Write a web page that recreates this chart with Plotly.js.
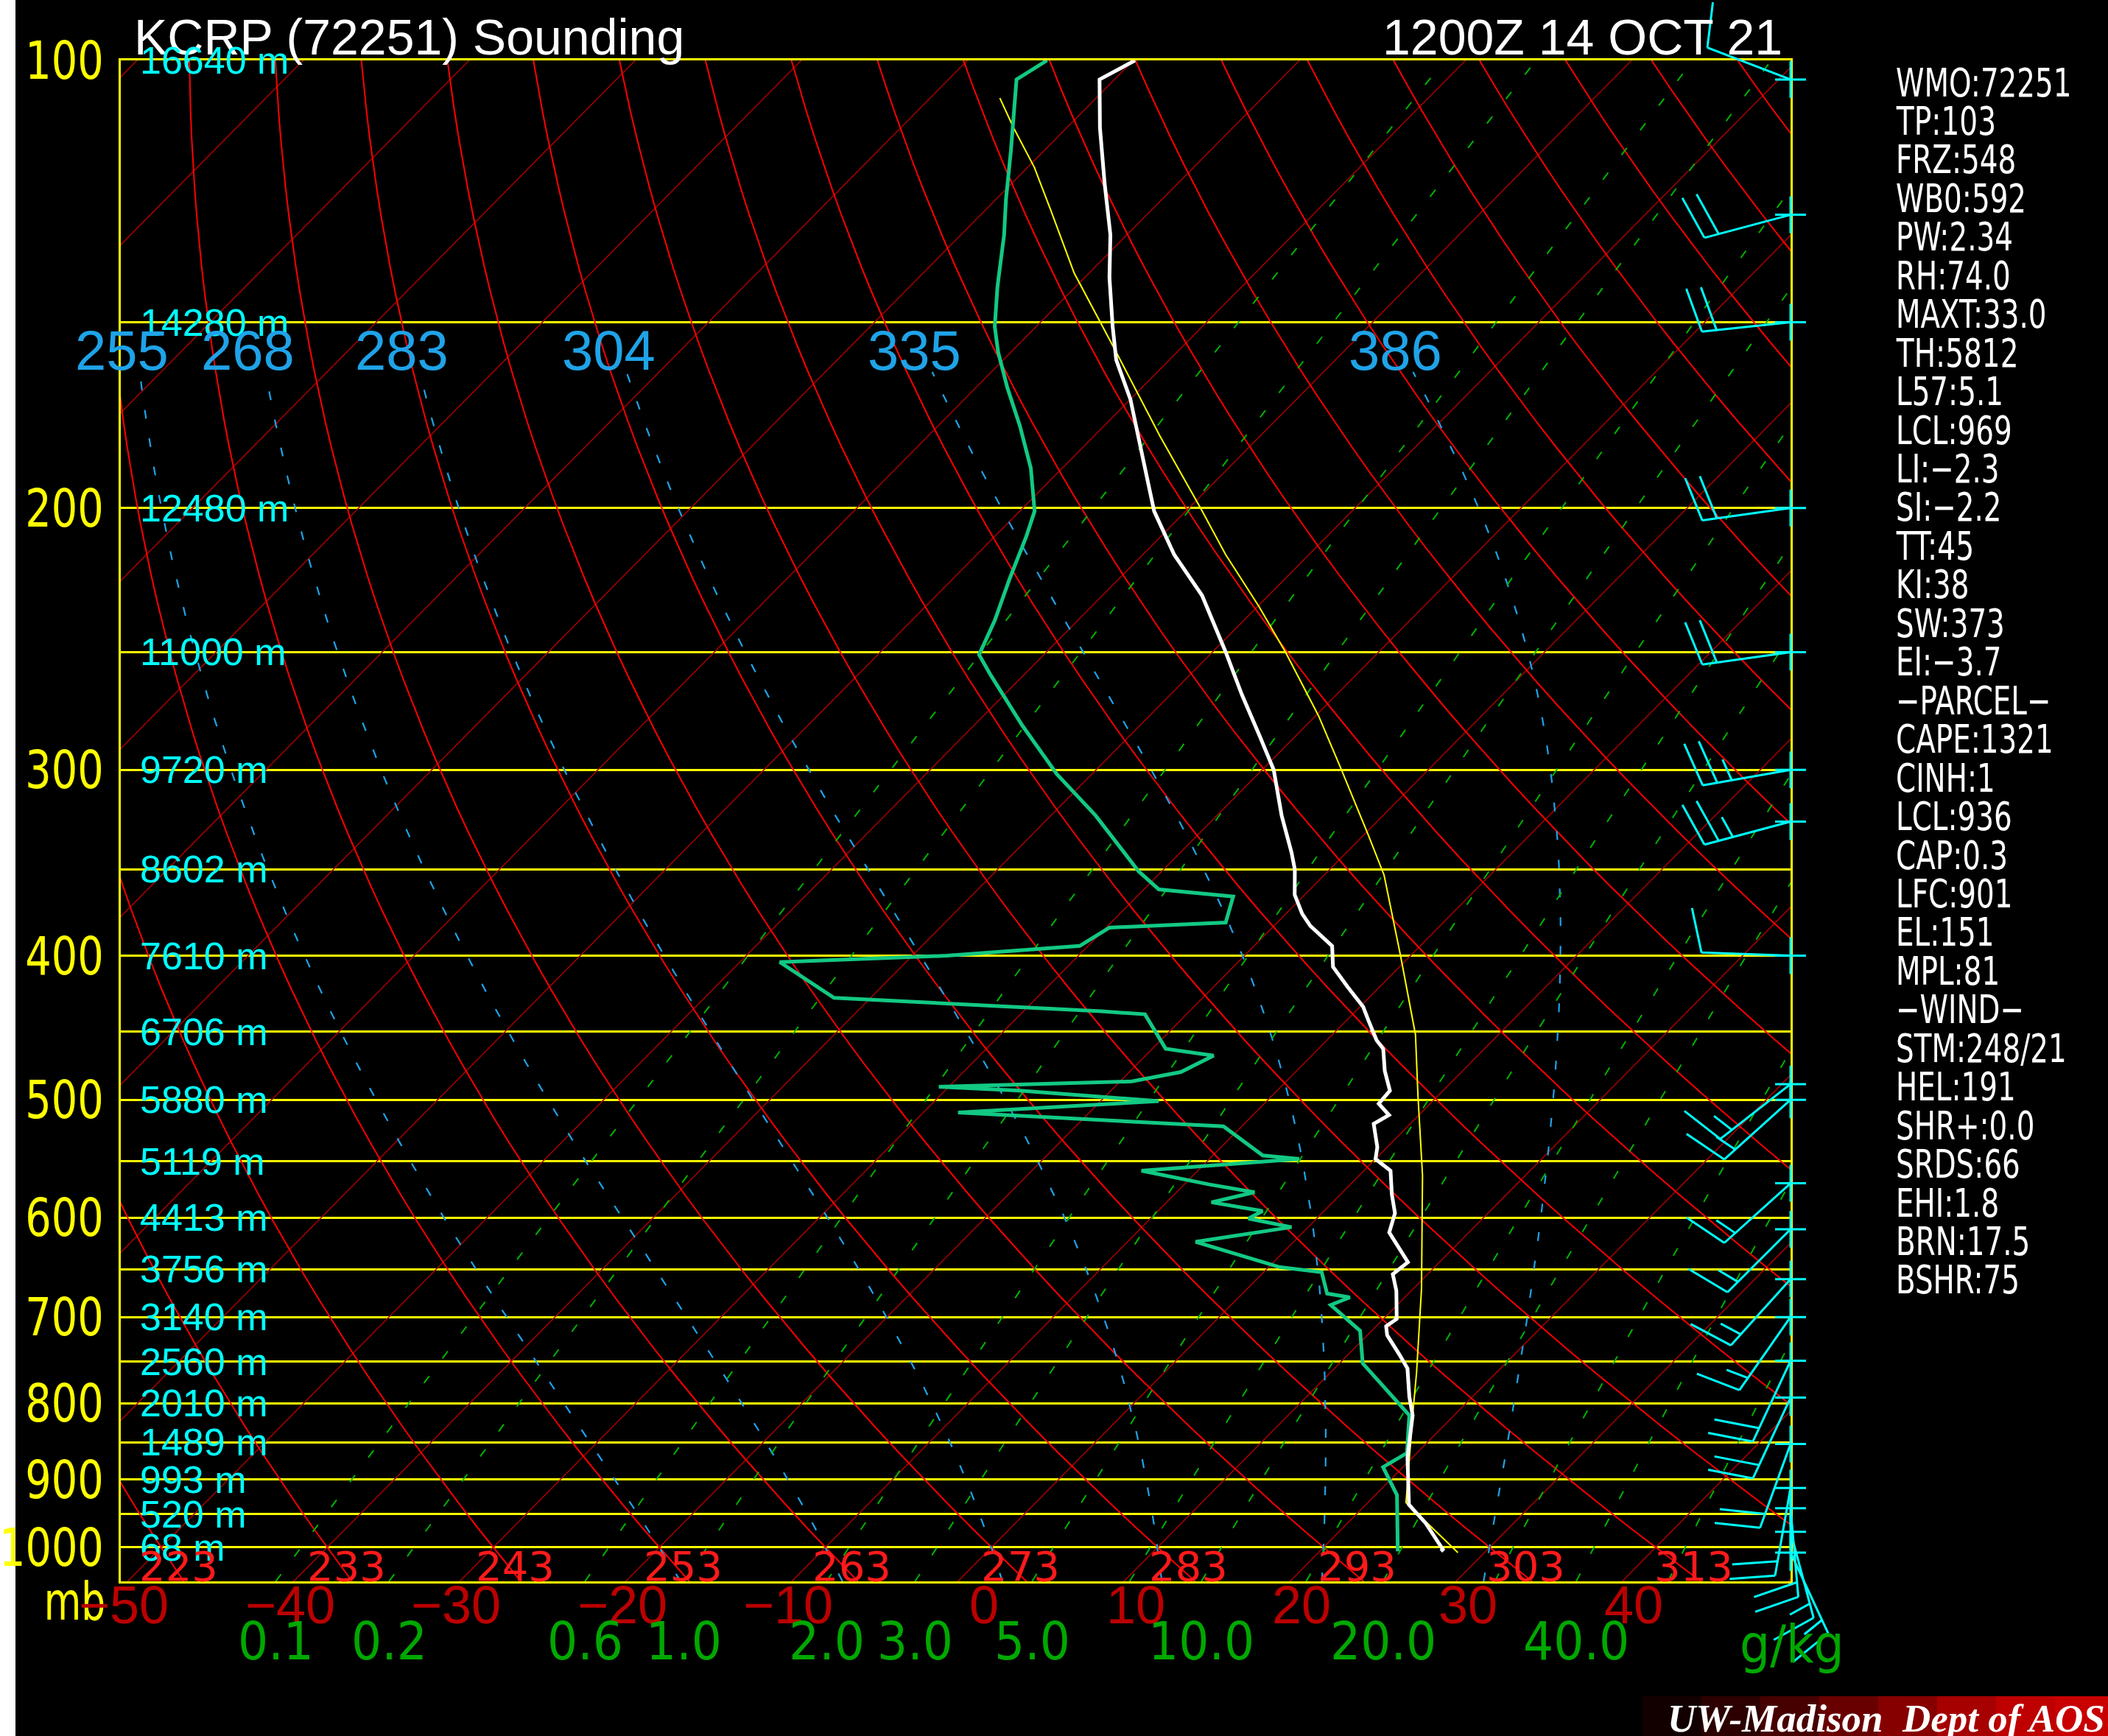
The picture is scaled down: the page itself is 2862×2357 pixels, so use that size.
<!DOCTYPE html>
<html><head><meta charset="utf-8">
<script src="https://cdn.plot.ly/plotly-3.0.1.min.js"></script>
<style>html,body{margin:0;padding:0;background:#000;overflow:hidden}#chart{width:2862px;height:2357px}</style>
</head><body><div id="chart"></div><script>
// ---------------- DATA ----------------
const LEVELS = [100,150,200,250,300,350,400,450,500,550,600,650,700,750,800,850,900,950,1000];
const HEIGHT_LABELS = ['16640 m','14280 m','12480 m','11000 m','9720 m','8602 m','7610 m','6706 m','5880 m','5119 m','4413 m','3756 m','3140 m','2560 m','2010 m','1489 m','993 m','520 m','68 m'];
const P_LABELS = [100,200,300,400,500,600,700,800,900,1000];
const T_LABELS = [-50,-40,-30,-20,-10,0,10,20,30,40];
const THETA_LABELS = [223,233,243,253,263,273,283,293,303,313];
const THETAW = [-20,-10,0,10,20,30];
const THETAE_LABELS = ['255','268','283','304','335','386'];
const MIXR = [0.1,0.2,0.6,1,2,3,5,7.5,10,15,20,30,40,55];
const MIXR_LABEL_VALUES = [0.1,0.2,0.6,1,2,3,5,10,20,40];
const MIXR_LABELS = ['0.1','0.2','0.6','1.0','2.0','3.0','5.0','10.0','20.0','40.0'];

const tempP = [1006,1003,963,936,870,845,815,792,758,742,720,710,702,672,655,643,627,614,596,579,558,548,538,519,512,503,493,478,462,456,442,433,420,407,394,382,375,364,350,341,322,300,285,267,250,229,215,201,193,181,169,159,151,140,131,121,111,103,100];
const tempT = [27.3,27.3,24.7,22.6,19.7,18.7,17.5,16.2,14.4,13.1,11.2,10.6,10.8,9.1,7.9,8.1,6.5,5.2,4.4,3.1,1.6,0.0,-0.6,-2.2,-1.8,-3.1,-3.2,-4.7,-6.1,-7.0,-8.7,-9.8,-11.9,-14.0,-15.3,-17.8,-19.0,-20.6,-22.1,-23.3,-26.1,-29.3,-32.1,-35.7,-39.2,-44.0,-48.1,-51.9,-53.8,-56.8,-60.0,-63.2,-65.4,-68.5,-71.0,-74.4,-78.0,-80.9,-79.9];

const dewP = [1006,922,883,864,815,752,715,687,679,675,653,648,623,609,601,594,586,577,570,558,548,545,521,516,510,501,493,490,486,479,467,462,438,436,430,427,404,400,394,383,380,365,361,351,322,302,280,259,251,238,223,209,201,188,176,166,157,151,142,131,124,115,103,100];
const dewT = [24.7,21.3,18.8,19.4,17.3,11.4,9.3,6.0,6.7,5.1,3.5,0.7,-5.9,-1.0,-4.1,-3.7,-7.3,-5.3,-8.5,-13.4,-4.6,-7.0,-11.1,-19.2,-27.9,-16.5,-25.5,-30.6,-19.3,-16.9,-15.9,-19.2,-22.5,-25.3,-35.9,-42.2,-47.6,-37.9,-30.5,-29.8,-23.1,-24.2,-29.1,-31.4,-37.3,-42.1,-47.1,-52.0,-53.9,-55.0,-56.6,-58.1,-59.1,-61.9,-65.1,-68.1,-70.8,-72.5,-74.7,-77.4,-79.4,-82.0,-85.9,-85.2];

const parcelP = [1008,933,815,763,670,562,497,452,400,353,332,299,276,250,233,215,200,179,157,139,126,118,111,106];
const parcelT = [28.4,22.3,17.5,15.2,10.5,3.8,-1.2,-5.0,-10.6,-16.4,-19.7,-25.4,-29.8,-35.6,-39.9,-45.0,-49.3,-56.0,-63.7,-70.9,-76.1,-79.6,-83.2,-85.8];

// wind barbs: pressure (mb), direction (deg), speed (kt)
const windP   = [103,127,150,200,250,300,325,400,488,500,569,611,660,700,749,793,852,912,941,976,1008];
const windDir = [291,255,264,262,262,260,255,272,232,228,228,225,222,215,205,205,200,190,175,165,155];
const windSpd = [10,20,20,20,20,25,25,10,15,15,15,15,15,15,20,20,20,20,20,15,15];

const STATS = ['WMO:72251','TP:103','FRZ:548','WB0:592','PW:2.34','RH:74.0','MAXT:33.0','TH:5812','L57:5.1','LCL:969','LI:\u22122.3','SI:\u22122.2','TT:45','KI:38','SW:373','EI:\u22123.7','\u2212PARCEL\u2212','CAPE:1321','CINH:1','LCL:936','CAP:0.3','LFC:901','EL:151','MPL:81','\u2212WIND\u2212','STM:248/21','HEL:191','SHR+:0.0','SRDS:66','EHI:1.8','BRN:17.5','BSHR:75'];
const TITLE_LEFT = 'KCRP (72251) Sounding';
const TITLE_RIGHT = '1200Z 14 OCT 21';

// ---------------- GEOMETRY ----------------
const W = 2862, H = 2357;
const PL = 164, PR = 2431, PT = 82, PB = 2147;          // plot frame in page pixels
const XMIN = -50.55, XMAX = 50.0;                       // skewed temperature range
const PBOT = 1053.9, PTOP = 100;
const SK = 88.55, PREF = 1050;                          // skew (deg C per pressure decade)
const PXX = (PR-PL)/(XMAX-XMIN);
const PXD = (PB-PT)/(Math.log10(PBOT)-Math.log10(PTOP));
function sx(T,p){ return T + SK*Math.log10(PREF/p); }
function logspace(a,b,n){ const o=[]; for(let i=0;i<n;i++){ o.push(Math.pow(10, Math.log10(a)+(Math.log10(b)-Math.log10(a))*i/(n-1))); } return o; }

// thermodynamics for the background lines
function esat(T){ return 6.112*Math.exp(17.67*T/(T+243.5)); }
function thetaE(T,p){ const Tk=T+273.15, e=esat(T), r=622*e/(p-e);
  return Tk*Math.pow(1000/p,0.2854*(1-0.00028*r))*Math.exp((3.376/Tk-0.00254)*r*(1+0.00081*r)); }
function satT(te,p){ let lo=-160, hi=60; for(let k=0;k<60;k++){ const m=(lo+hi)/2; if(thetaE(m,p)>te) hi=m; else lo=m; } return (lo+hi)/2; }
function moistAdiabat(Tw, ptop){ const te=thetaE(Tw,1000); return logspace(PBOT,ptop,50).map(p=>[p,satT(te,p)]); }
function mixT(w,p){ const e=w*p/(622+w); const l=Math.log(e/6.112); return 243.5*l/(17.67-l); }

const traces = [];
// isotherms
(function(){ const x=[], y=[]; for(let T=-150;T<=50;T+=10){ x.push(sx(T,PBOT), sx(T,PTOP), null); y.push(PBOT, PTOP, null); }
  traces.push({x, y, mode:'lines', line:{color:'#a00000', width:1.6}, hoverinfo:'skip', showlegend:false}); })();
// dry adiabats
(function(){ const x=[], y=[]; const ps=logspace(PBOT,PTOP,60);
  for(let th=213.15; th<=463.15; th+=10){ ps.forEach(p=>{ x.push(sx(th*Math.pow(p/1000,0.2857)-273.15,p)); y.push(p); }); x.push(null); y.push(null); }
  traces.push({x, y, mode:'lines', line:{color:'#ff0000', width:2}, hoverinfo:'skip', showlegend:false}); })();
// moist adiabats
const moistLines = THETAW.map(tw=>moistAdiabat(tw,162));
moistLines.forEach(ln=>traces.push({x:ln.map(d=>sx(d[1],d[0])), y:ln.map(d=>d[0]), mode:'lines',
  line:{color:'#1fa3e8', width:2.2, dash:'12px,27px'}, hoverinfo:'skip', showlegend:false}));
// mixing ratio lines
(function(){ const ps=logspace(PBOT,PTOP,40); MIXR.forEach(w=>traces.push({x:ps.map(p=>sx(mixT(w,p),p)), y:ps, mode:'lines',
  line:{color:'#00b400', width:2, dash:'12px,30px'}, hoverinfo:'skip', showlegend:false})); })();
// parcel, dewpoint, temperature
traces.push({x:parcelP.map((p,i)=>sx(parcelT[i],p)), y:parcelP, mode:'lines', line:{color:'#ffff00', width:2}, hoverinfo:'skip', showlegend:false});
traces.push({x:dewP.map((p,i)=>sx(dewT[i],p)), y:dewP, mode:'lines', line:{color:'#12c983', width:5}, hoverinfo:'skip', showlegend:false});
traces.push({x:tempP.map((p,i)=>sx(tempT[i],p)), y:tempP, mode:'lines', line:{color:'#ffffff', width:5}, hoverinfo:'skip', showlegend:false});

// wind barbs on the page-wide overlay axes (same data mapping, not clipped at the frame)
(function(){ const x=[], y=[];
  function seg(p, a, b){ x.push(XMAX + a[0]/PXX, XMAX + b[0]/PXX, null); y.push(p*Math.pow(10,a[1]/PXD), p*Math.pow(10,b[1]/PXD), null); }
  windP.forEach((p,i)=>{
    const r = windDir[i]*Math.PI/180, s=[Math.sin(r), -Math.cos(r)], q=[Math.cos(r), Math.sin(r)];
    const L=121, F=60, A=15, G=20;
    seg(p,[-21,0],[21,0]); seg(p,[0,-25],[0,25]);
    seg(p,[0,0],[s[0]*L, s[1]*L]);
    const spd = Math.round(windSpd[i]/5)*5; let d=L;
    const full = Math.floor(spd/10), half = (spd%10)>=5 ? 1:0;
    if(full===0 && half) d = L-G;
    for(let k=0;k<full;k++){ seg(p,[s[0]*d,s[1]*d],[s[0]*d+q[0]*F+s[0]*A, s[1]*d+q[1]*F+s[1]*A]); d-=G; }
    if(half){ seg(p,[s[0]*d,s[1]*d],[s[0]*d+q[0]*F/2+s[0]*A/2, s[1]*d+q[1]*F/2+s[1]*A/2]); }
  });
  traces.push({x, y, xaxis:'x2', yaxis:'y2', mode:'lines', line:{color:'#00ffff', width:3}, hoverinfo:'skip', showlegend:false});
})();

// ---------------- TEXT ----------------
const NARROW = 'DejaVu Sans Condensed, Liberation Sans Narrow, sans-serif';
const SANS = 'Liberation Sans, Arial, sans-serif';
const ann = [], SQUEEZE = {};
const py = v => 1 - v/H, pxp = v => v/W;
function add(a, sq){ if(sq) SQUEEZE[ann.length] = sq; ann.push(Object.assign({showarrow:false}, a)); }
add({text:TITLE_LEFT, xref:'paper', yref:'paper', x:pxp(180), y:py(50), xanchor:'left', yanchor:'middle', font:{family:SANS, size:68, color:'#ffffff'}});
add({text:TITLE_RIGHT, xref:'paper', yref:'paper', x:pxp(2422), y:py(50), xanchor:'right', yanchor:'middle', font:{family:SANS, size:68, color:'#ffffff'}});
P_LABELS.forEach(p=>add({text:String(p), xref:'paper', yref:'y', x:pxp(143), y:Math.log10(p), xanchor:'right', yanchor:'middle', font:{family:NARROW, size:72, color:'#ffff00'}}, [0.86,'right']));
add({text:'mb', xref:'paper', yref:'paper', x:pxp(145), y:py(2174), xanchor:'right', yanchor:'middle', font:{family:NARROW, size:72, color:'#ffff00'}}, [0.8,'right']);
LEVELS.forEach((p,i)=>add({text:HEIGHT_LABELS[i], xref:'paper', yref:'y', x:pxp(188), y:Math.log10(p), xanchor:'left', yanchor:'middle', font:{family:SANS, size:52, color:'#00ffff'}}));
T_LABELS.forEach(t=>add({text:(t<0?'\u2212':'')+Math.abs(t), xref:'x', yref:'paper', x:sx(t,PBOT), xshift:58, y:py(2179), xanchor:'right', yanchor:'middle', font:{family:SANS, size:72, color:'#bb0000'}}));
THETA_LABELS.forEach(th=>add({text:String(th), xref:'x', yref:'paper', x:sx((th+0.15)*Math.pow(PREF/1000,0.2857)-273.15, PREF), xshift:-5, y:py(2126), xanchor:'center', yanchor:'middle', font:{family:'DejaVu Sans, sans-serif', size:56, color:'#ff1a1a'}}));
MIXR_LABEL_VALUES.forEach((w,i)=>add({text:MIXR_LABELS[i], xref:'x', yref:'paper', x:sx(mixT(w,PBOT),PBOT), y:py(2228), xanchor:'center', yanchor:'middle', font:{family:NARROW, size:72, color:'#00a800'}}));
add({text:'g/kg', xref:'paper', yref:'paper', x:pxp(2433), y:py(2232), xanchor:'center', yanchor:'middle', font:{family:NARROW, size:72, color:'#00a800'}});
THETAW.forEach((tw,i)=>{ const ln=moistLines[i]; const top=ln[ln.length-1];
  add({text:THETAE_LABELS[i], xref:'x', yref:'paper', x:sx(top[1],top[0]), xshift:-24, y:py(475), xanchor:'center', yanchor:'middle', font:{family:SANS, size:76, color:'#1fa3e8'}}); });
STATS.forEach((s,i)=>add({text:s, xref:'paper', yref:'paper', x:pxp(2572), y:py(112+52.45*i), xanchor:'left', yanchor:'middle', font:{family:NARROW, size:54, color:'#ffffff'}}, [0.8,'left']));
add({text:'<b><i>UW-Madison  Dept of AOS</i></b>', xref:'paper', yref:'paper', x:pxp(2860), y:py(2333), xanchor:'right', yanchor:'middle', font:{family:'Liberation Serif, DejaVu Serif, serif', size:53, color:'#ffffff'}});

// ---------------- SHAPES ----------------
const shapes = [{type:'rect', xref:'paper', yref:'paper', x0:0, x1:pxp(21), y0:0, y1:1, fillcolor:'#ffffff', line:{width:0}, layer:'below'}];
const grad = ['rgba(90,0,0,0.2)','rgba(110,0,0,0.4)','rgba(130,0,0,0.55)','rgba(150,0,0,0.7)','rgba(165,0,0,0.82)','rgba(180,0,0,0.92)','rgba(190,0,0,1)','rgba(200,0,0,1)'];
grad.forEach((c,i)=>{ const a=2230+i*80; shapes.push({type:'rect', xref:'paper', yref:'paper', x0:pxp(a), x1:pxp(a+80), y0:0, y1:py(2303), fillcolor:c, line:{width:0}, layer:'below'}); });

const layout = {
  width:W, height:H, margin:{l:0,r:0,t:0,b:0,pad:0}, paper_bgcolor:'#000000', plot_bgcolor:'rgba(0,0,0,0)', showlegend:false,
  xaxis:{domain:[PL/W, PR/W], range:[XMIN, XMAX], showgrid:false, zeroline:false, showticklabels:false, ticks:'', showline:true, mirror:true, linecolor:'#ffff00', linewidth:3, fixedrange:true},
  yaxis:{domain:[1-PB/H, 1-PT/H], type:'log', range:[Math.log10(PBOT), Math.log10(PTOP)], tickvals:LEVELS, showticklabels:false, ticks:'', showgrid:true, gridcolor:'#ffff00', gridwidth:3, zeroline:false, showline:true, mirror:true, linecolor:'#ffff00', linewidth:3, fixedrange:true},
  xaxis2:{domain:[0,1], anchor:'y2', range:[XMIN - PL/PXX, XMAX + (W-PR)/PXX], visible:false, fixedrange:true},
  yaxis2:{domain:[0,1], anchor:'x2', type:'log', range:[Math.log10(PBOT) + (H-PB)/PXD, Math.log10(PTOP) - PT/PXD], visible:false, fixedrange:true},
  annotations:ann, shapes:shapes
};
Plotly.newPlot('chart', traces, layout, {staticPlot:true, displayModeBar:false}).then(()=>{
  // condense the narrow vector-font labels horizontally (text stays real text)
  document.querySelectorAll('g.annotation').forEach(g=>{
    const i = +g.getAttribute('data-index'); const s = SQUEEZE[i]; if(!s) return;
    const t = g.querySelector('text.annotation-text'); if(!t) return;
    try{
      const b0 = t.getBBox();
      t.setAttribute('lengthAdjust','spacingAndGlyphs');
      t.setAttribute('textLength', (b0.width*s[0]).toFixed(2));
      const b1 = t.getBBox();
      const dx = s[1]==='left' ? b0.x-b1.x : (b0.x+b0.width)-(b1.x+b1.width);
      t.setAttribute('x', (parseFloat(t.getAttribute('x'))||0) + dx);
    }catch(e){}
  });
});
</script></body></html>
